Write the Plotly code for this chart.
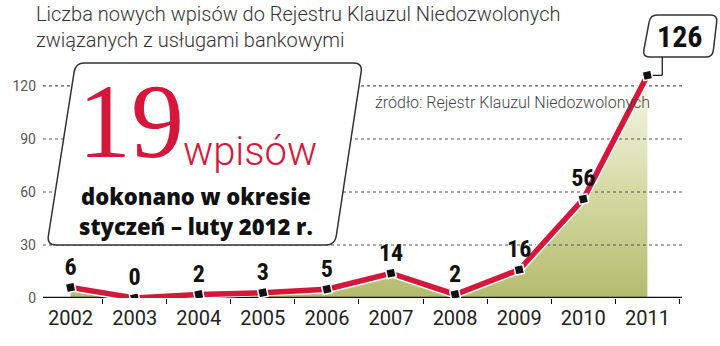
import plotly.graph_objects as go

# Number of new entries in the register, per year
years = [2002, 2003, 2004, 2005, 2006, 2007, 2008, 2009, 2010, 2011]
entries = [6, 0, 2, 3, 5, 14, 2, 16, 56, 126]
year_labels = [str(y) for y in years]
y_ticks = [0, 30, 60, 90, 120]
grid_values = [30, 60, 90, 120]

title_text = ("Liczba nowych wpisów do Rejestru Klauzul Niedozwolonych<br>"
              "związanych z usługami bankowymi")
source_text = "źródło: Rejestr Klauzul Niedozwolonych"
big_number = "19"
big_unit = "wpisów"
box_line1 = "dokonano w okresie"
box_line2 = "styczeń – luty 2012 r."

W, H = 720, 346
ML, MR, MT, MB = 34, 38, 60, 48
PW, PH = W - ML - MR, H - MT - MB
X_RANGE = [2001.57, 2011.54]
Y_RANGE = [0, 134.7]

RED = "#d4173b"
COND = "Liberation Sans Narrow, Roboto Condensed, Roboto, sans-serif"
LIGHT = "Roboto, sans-serif"
HEAVY = "Open Sans, Roboto, sans-serif"


def px(x):
    return (x - ML) / PW


def py(y):
    return (MT + PH - y) / PH


def rounded_path(pts, r):
    """Closed path through pixel corner points with rounded corners, in paper units."""
    n = len(pts)
    segs = []
    for i in range(n):
        p0, p1, p2 = pts[i - 1], pts[i], pts[(i + 1) % n]

        def toward(a, b, d):
            dx, dy = b[0] - a[0], b[1] - a[1]
            L = (dx * dx + dy * dy) ** 0.5
            return (a[0] + dx / L * d, a[1] + dy / L * d)
        a = toward(p1, p0, r)
        b = toward(p1, p2, r)
        segs.append((a, p1, b))
    d = f"M{px(segs[0][2][0])},{py(segs[0][2][1])}"
    for i in range(1, n + 1):
        a, c, b = segs[i % n]
        d += f" L{px(a[0])},{py(a[1])} Q{px(c[0])},{py(c[1])} {px(b[0])},{py(b[1])}"
    return d + " Z"


fig = go.Figure()

# shaded area under the series
fig.add_trace(go.Scatter(
    x=years, y=entries, mode="none", fill="tozeroy",
    fillgradient=dict(type="vertical",
                      colorscale=[[0, "#b4bb6e"], [0.5, "#d6dba6"], [1, "#f8f8ec"]]),
    hoverinfo="skip", showlegend=False))

# dotted grid above the shading
gx, gy = [], []
for v in grid_values:
    gx += [X_RANGE[0], X_RANGE[1], None]
    gy += [v, v, None]
fig.add_trace(go.Scatter(x=gx, y=gy, mode="lines",
                         line=dict(color="#555555", width=1.2, dash="3px,3px"),
                         hoverinfo="skip", showlegend=False))

# baseline
fig.add_trace(go.Scatter(x=X_RANGE, y=[0, 0], mode="lines",
                         line=dict(color="#111111", width=2.5),
                         hoverinfo="skip", showlegend=False))

# red line with a white outline
fig.add_trace(go.Scatter(x=years, y=entries, mode="lines",
                         line=dict(color="white", width=8.5),
                         hoverinfo="skip", showlegend=False))
fig.add_trace(go.Scatter(x=years, y=entries, mode="lines",
                         line=dict(color=RED, width=5.5),
                         hoverinfo="skip", showlegend=False))

# point markers with value labels (last value is shown in its own box)
labels = [str(v) for v in entries[:-1]] + [""]
fig.add_trace(go.Scatter(
    x=years, y=entries, mode="markers+text",
    marker=dict(symbol="square", size=9, color="#111111", angle=-12,
                line=dict(color="white", width=1.5)),
    text=labels, textposition="top center",
    textfont=dict(family=COND, size=24, color="#111111", weight="bold"),
    hoverinfo="skip", showlegend=False))

shapes = []
annotations = []

# slanted info box on the left
shapes.append(dict(type="path", xref="paper", yref="paper", layer="above",
                   path=rounded_path([(67, 63), (358, 63), (330, 245), (38, 245)], 9),
                   fillcolor="white", line=dict(color="#333333", width=1.5)))
annotations += [
    dict(text=big_number, x=px(123), y=py(121), xref="paper", yref="paper",
         xanchor="center", yanchor="middle", showarrow=False,
         font=dict(family="Liberation Serif, DejaVu Serif, serif", size=106, color=RED)),
    dict(text=big_unit, x=px(174), y=py(151), xref="paper", yref="paper",
         xanchor="left", yanchor="middle", showarrow=False,
         font=dict(family=LIGHT, size=40, color=RED, weight=300)),
    dict(text=box_line1, x=px(189), y=py(196), xref="paper", yref="paper",
         xanchor="center", yanchor="middle", showarrow=False,
         font=dict(family=HEAVY, size=22, color="#111111", weight=800)),
    dict(text=box_line2, x=px(189), y=py(226), xref="paper", yref="paper",
         xanchor="center", yanchor="middle", showarrow=False,
         font=dict(family=HEAVY, size=22, color="#111111", weight=800)),
]

# box for the last value, joined to its point
last_x, last_y = years[-1], entries[-1]
elbow_px = 662
elbow_x = X_RANGE[0] + (elbow_px - ML) / PW * (X_RANGE[1] - X_RANGE[0])
shapes.append(dict(type="path", xref="paper", yref="paper", layer="above",
                   path=rounded_path([(650, 15), (718, 15), (713, 57), (642, 57)], 7),
                   fillcolor="white", line=dict(color="#333333", width=1.5)))
shapes.append(dict(type="line", xref="paper", yref="paper", layer="above",
                   x0=px(elbow_px), x1=px(elbow_px),
                   y0=last_y / Y_RANGE[1], y1=py(57),
                   line=dict(color="#222222", width=1.3)))
shapes.append(dict(type="line", xref="x", yref="y", layer="below",
                   x0=elbow_x, x1=last_x, y0=last_y, y1=last_y,
                   line=dict(color="#222222", width=1.3)))
annotations.append(dict(text=str(last_y), x=px(679), y=py(37), xref="paper", yref="paper",
                        xanchor="center", yanchor="middle", showarrow=False,
                        font=dict(family=COND, size=30, color="#111111", weight="bold")))

# source note
annotations.append(dict(text=source_text, x=px(369), y=py(102), xref="paper", yref="paper",
                        xanchor="left", yanchor="middle", showarrow=False,
                        font=dict(family=LIGHT, size=16, color="#444444", weight=300)))

# heading
annotations.append(dict(text=title_text, x=px(25), y=py(0), xref="paper", yref="paper",
                        xanchor="left", yanchor="top", align="left", showarrow=False,
                        font=dict(family=LIGHT, size=20, color="#333333", weight=300)))

fig.update_layout(
    width=W, height=H,
    margin=dict(l=ML, r=MR, t=MT, b=MB, pad=0),
    paper_bgcolor="white", plot_bgcolor="white",
    shapes=shapes, annotations=annotations,
    showlegend=False,
    xaxis=dict(range=X_RANGE, tickvals=years, ticktext=year_labels,
               showgrid=False, zeroline=False, showline=False, ticks="",
               ticklabelstandoff=6,
               tickfont=dict(family=LIGHT, size=20, color="#222222"),
               minor=dict(tick0=2002.5, dtick=1, ticks="outside", ticklen=5,
                          tickcolor="#111111", tickwidth=1.3, showgrid=False)),
    yaxis=dict(range=Y_RANGE, tickvals=y_ticks, showgrid=False, zeroline=False,
               showline=False, ticks="", ticklabelstandoff=6,
               tickfont=dict(family=LIGHT, size=14, color="#555555")),
)

fig.write_html("out.html")
